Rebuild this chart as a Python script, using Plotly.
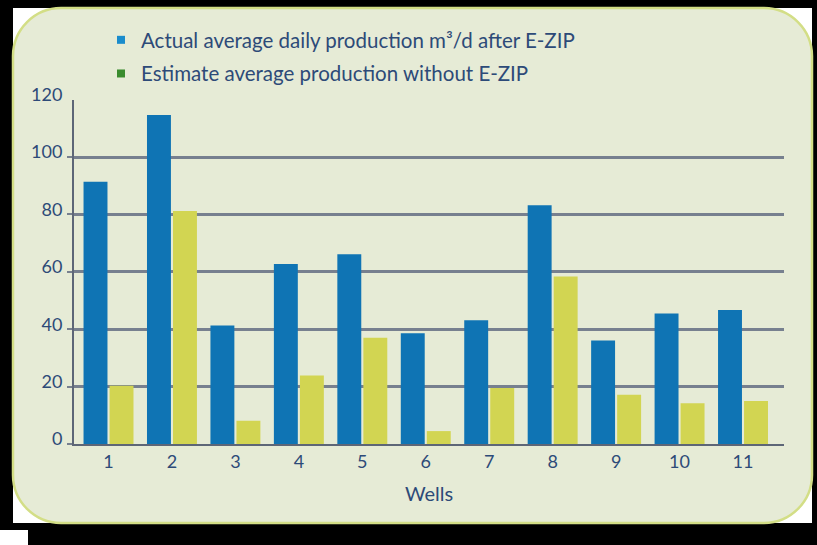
import plotly.graph_objects as go

# ---- data ----
wells = [1, 2, 3, 4, 5, 6, 7, 8, 9, 10, 11]
actual = [91.4, 114.6, 41.3, 62.7, 66.1, 38.6, 43.1, 83.2, 36.1, 45.5, 46.7]
estimate = [20.3, 81.2, 8.1, 23.9, 37.0, 4.5, 19.5, 58.4, 17.2, 14.2, 15.0]
y_ticks = [0, 20, 40, 60, 80, 100, 120]
grid_vals = [0, 20, 40, 60, 80, 100]
series_names = ["Actual average daily production m³/d after E-ZIP",
                "Estimate average production without E-ZIP"]

W, H = 817, 545
FONT = "Lato"
TXT = "#2d4a78"
BLUE = "#0f74b4"
YELLOW = "#d2d552"
LEG_BLUE = "#1a8ccc"
LEG_GREEN = "#3a8c2e"


def px(x):
    return x / W


def py(y):
    return 1 - y / H


fig = go.Figure()
fig.add_trace(go.Bar(x=wells, y=actual, name=series_names[0], marker=dict(color=BLUE, line=dict(width=0)),
                     showlegend=False, yaxis="y"))
fig.add_trace(go.Bar(x=wells, y=estimate, name=series_names[1], marker=dict(color=YELLOW, line=dict(width=0)),
                     showlegend=False, yaxis="y"))
# legend entries (the reference legend uses its own swatch colours)
fig.add_trace(go.Scatter(x=[None], y=[None], mode="markers", name=series_names[0], legendgroup="a",
                         marker=dict(symbol="square", size=8, color=LEG_BLUE)))
fig.add_trace(go.Scatter(x=[None], y=[None], mode="markers", name=series_names[1], legendgroup="b",
                         marker=dict(symbol="square", size=8, color=LEG_GREEN)))
# give yaxis2 (label axis) a trace so it renders
fig.add_trace(go.Scatter(x=[None], y=[None], yaxis="y2", showlegend=False, hoverinfo="skip"))


def rounded_path(x0, y0, x1, y1, r):
    k = 0.5523 * r
    X, Y = px, py
    return (f"M {X(x0 + r)},{Y(y0)} L {X(x1 - r)},{Y(y0)} "
            f"C {X(x1 - r + k)},{Y(y0)} {X(x1)},{Y(y0 + r - k)} {X(x1)},{Y(y0 + r)} "
            f"L {X(x1)},{Y(y1 - r)} "
            f"C {X(x1)},{Y(y1 - r + k)} {X(x1 - r + k)},{Y(y1)} {X(x1 - r)},{Y(y1)} "
            f"L {X(x0 + r)},{Y(y1)} "
            f"C {X(x0 + r - k)},{Y(y1)} {X(x0)},{Y(y1 - r + k)} {X(x0)},{Y(y1 - r)} "
            f"L {X(x0)},{Y(y0 + r)} "
            f"C {X(x0)},{Y(y0 + r - k)} {X(x0 + r - k)},{Y(y0)} {X(x0 + r)},{Y(y0)} Z")


def rect(x0, y0, x1, y1, color):
    return dict(type="rect", xref="paper", yref="paper", x0=px(x0), x1=px(x1), y0=py(y1), y1=py(y0),
                fillcolor=color, line=dict(width=0), layer="below")


# black page frame = paper background; white card inside; rounded green panel on top
shapes = [
    rect(13, 8, 812, 523, "white"),
    rect(0, 530, 28, H, "white"),
    dict(type="path", xref="paper", yref="paper", path=rounded_path(13, 8, 812, 523, 48),
         fillcolor="#e6ebd6", line=dict(color="#d3de86", width=2.5), layer="below"),
]

fig.update_layout(
    width=W, height=H,
    margin=dict(l=0, r=0, t=0, b=0, autoexpand=False),
    paper_bgcolor="black",
    plot_bgcolor="rgba(0,0,0,0)",
    barmode="group",
    bargap=0.18,
    bargroupgap=0.08,
    font=dict(family=FONT, color=TXT, size=18),
    shapes=shapes,
    showlegend=True,
    legend=dict(x=px(101), y=py(20), xanchor="left", yanchor="top", bgcolor="rgba(0,0,0,0)",
                font=dict(family=FONT, size=20.5, color=TXT), tracegroupgap=4, traceorder="grouped"),
    xaxis=dict(domain=[px(74), px(784)], range=[0.456, 11.646], tickvals=wells,
               ticktext=[str(w) for w in wells], showgrid=False, zeroline=False,
               showline=True, linecolor="#5d6677", linewidth=2, ticks="", automargin=False,
               tickfont=dict(size=18, color=TXT),
               title=dict(text="Wells", font=dict(size=20, color=TXT), standoff=16)),
    yaxis=dict(domain=[py(444), py(99.6)], range=[0, 120], tickvals=grid_vals, showticklabels=False,
               showgrid=True, gridcolor="#77808f", gridwidth=2.5, zeroline=False,
               showline=True, linecolor="#5d6677", linewidth=1.5, ticks="outside", ticklen=5,
               tickcolor="#77808f", tickwidth=2, automargin=False),
    yaxis2=dict(domain=[py(444), py(99.6)], range=[0, 120], overlaying="y", side="left",
                anchor="x", tickvals=y_ticks, ticktext=[str(v) for v in y_ticks],
                showgrid=False, zeroline=False, showline=False, ticks="outside", ticklen=7,
                tickcolor="rgba(0,0,0,0)", ticklabelshift=-5, automargin=False,
                tickfont=dict(size=18, color=TXT)),
)

fig.write_html(
    "out.html", config={"displayModeBar": False},
    post_script=("document.documentElement.style.margin='0px';document.body.style.margin='0px';"
                 "document.body.style.padding='0px';document.body.style.overflow='hidden';"
                 "document.documentElement.style.background='black';document.body.style.background='black';"))
